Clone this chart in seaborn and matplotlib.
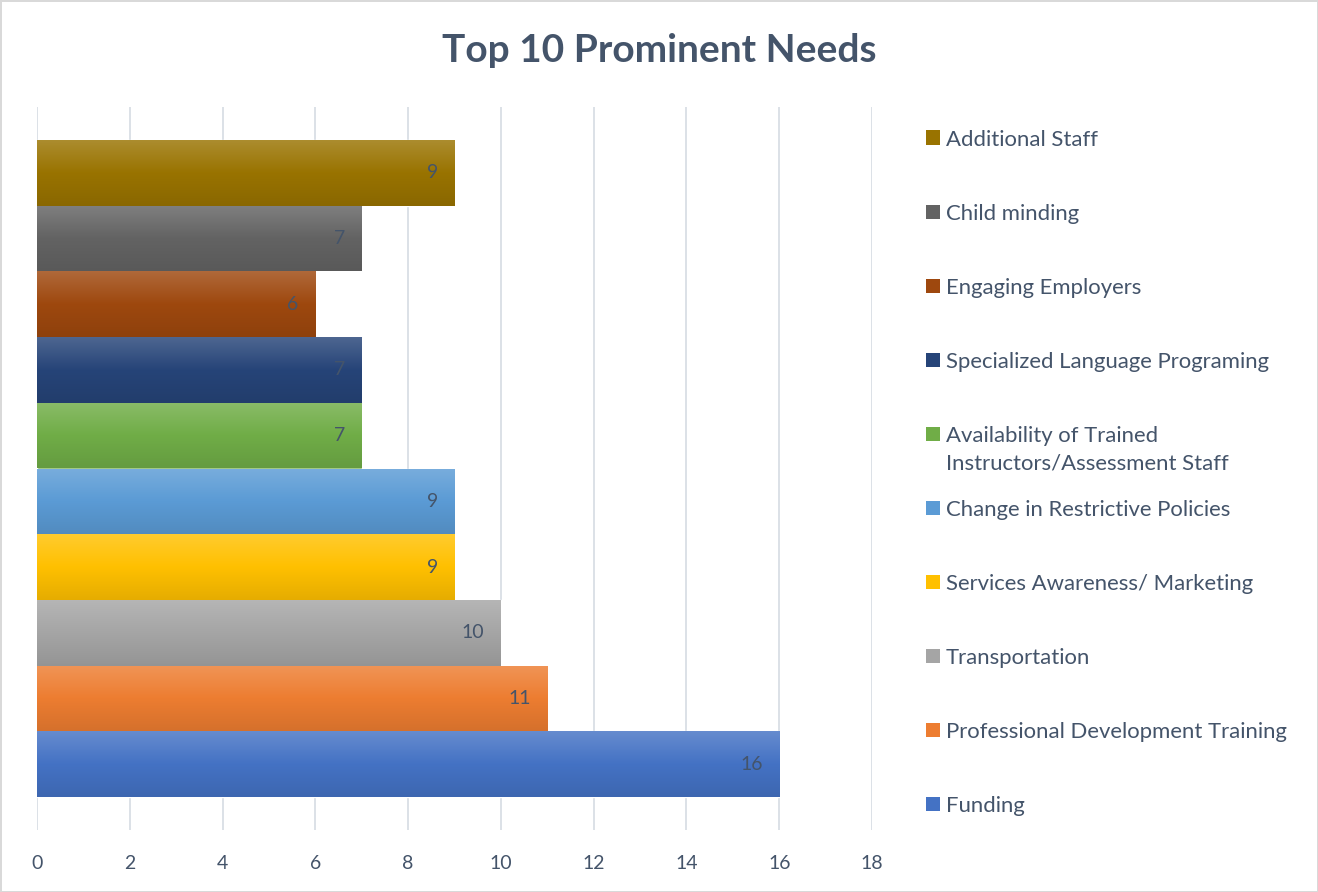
import numpy as np
import matplotlib
matplotlib.use("Agg")
import matplotlib.pyplot as plt
import matplotlib.colors as mcolors
from matplotlib.patches import Patch
import seaborn as sns

# ---- data (top to bottom as shown) ----
categories = [
    "Additional Staff",
    "Child minding",
    "Engaging Employers",
    "Specialized Language Programing",
    "Availability of Trained\nInstructors/Assessment Staff",
    "Change in Restrictive Policies",
    "Services Awareness/ Marketing",
    "Transportation",
    "Professional Development Training",
    "Funding",
]
values = [9, 7, 6, 7, 7, 9, 9, 10, 11, 16]
colors = ["#997300", "#636363", "#9E480E", "#264478", "#70AD47",
          "#5B9BD5", "#FFC000", "#A5A5A5", "#ED7D31", "#4472C4"]
x_ticks = [0, 2, 4, 6, 8, 10, 12, 14, 16, 18]
title = "Top 10 Prominent Needs"

TEXT = "#44546A"
GRID = "#D9DEE5"

sns.set_theme(style="white")
plt.rcParams["font.family"] = ["Lato", "DejaVu Sans"]

W, H = 1318, 892
fig = plt.figure(figsize=(W / 100, H / 100), dpi=100)
fig.patch.set_facecolor("white")
fig.patch.set_edgecolor("#D9D9D9")
fig.patch.set_linewidth(2)

ax = fig.add_axes([37 / W, 1 - 830 / H, (872 - 37) / W, (830 - 107) / H])

sns.barplot(x=values, y=categories, hue=categories, palette=colors,
            dodge=False, legend=False, width=1.0, orient="h",
            saturation=1, ax=ax, zorder=3)

# gradient fill for each bar
def grad_for(c):
    rgb = np.array(mcolors.to_rgb(c))
    top = rgb + (1 - rgb) * 0.18
    bot = rgb * 0.90
    t = np.linspace(0, 1, 64)[:, None]
    arr = np.where(t < 0.5,
                   top + (rgb - top) * (t / 0.5),
                   rgb + (bot - rgb) * ((t - 0.5) / 0.5))
    return arr[:, None, :]

for p in list(ax.patches):
    x0, y0, w, h = p.get_x(), p.get_y(), p.get_width(), p.get_height()
    im = ax.imshow(grad_for(p.get_facecolor()), extent=(x0, x0 + w, y0 + h, y0),
                   origin="upper", aspect="auto", interpolation="bilinear",
                   zorder=3.5)
    im.set_clip_path(p)
    ax.annotate(f"{w:g}", xy=(x0 + w, y0 + h / 2), xytext=(-12, 0),
                textcoords="offset points", ha="right", va="center",
                color=TEXT, fontsize=14, zorder=5)

n = len(categories)
ax.set_xlim(0, 18)
ax.set_ylim(n - 0.5 + 0.5, -0.5 - 0.5)
ax.set_aspect("auto")
ax.set_xticks(x_ticks)
ax.set_xticklabels([str(t) for t in x_ticks])
ax.set_yticks([])
ax.set_xlabel("")
ax.set_ylabel("")
ax.grid(axis="x", color=GRID, linewidth=1.3, zorder=0)
ax.set_axisbelow(True)
for s in ax.spines.values():
    s.set_visible(False)
ax.tick_params(axis="x", length=0, pad=18, labelsize=14, labelcolor=TEXT)

fig.text(0.5, 1 - 50 / H, title, ha="center", va="center",
         fontsize=28, fontweight="bold", color=TEXT)

# legend
fs = 15.9
fs_px = fs * 100 / 72
handles = [Patch(facecolor=c, edgecolor="none") for c in colors]
labels = [c.split("\n")[0] for c in categories]
leg = fig.legend(handles, labels, loc="upper left",
                 bbox_to_anchor=(926 / W, 1 - 129.5 / H),
                 frameon=False, fontsize=fs, borderpad=0, borderaxespad=0,
                 handlelength=14 / fs_px, handleheight=14 / fs_px,
                 handletextpad=6 / fs_px,
                 labelspacing=(74.7 - 0.936 * fs_px) / fs_px)
for t in leg.get_texts():
    t.set_color(TEXT)

# second line of wrapped legend label
fig.canvas.draw()
for cat, t in zip(categories, leg.get_texts()):
    if "\n" in cat:
        bb = t.get_window_extent()
        fig.text(bb.x0 / W, (bb.y0 - 28) / H, cat.split("\n")[1],
                 ha="left", va="bottom", fontsize=fs, color=TEXT)

fig.savefig("out.png", dpi=100)
